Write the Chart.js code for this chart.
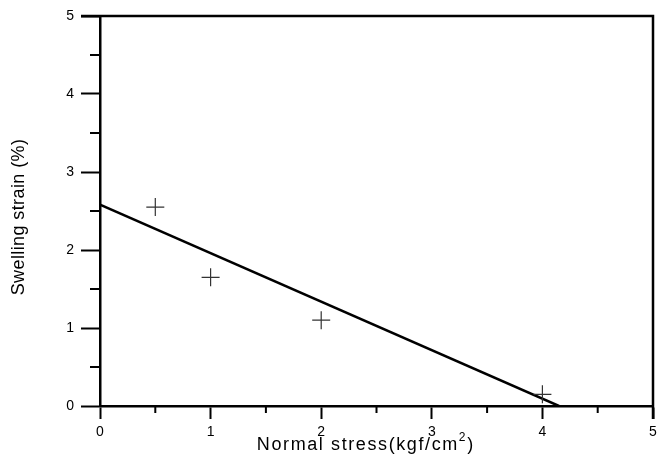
<!DOCTYPE html>
<html>
<head>
<meta charset="utf-8">
<script src="https://cdn.jsdelivr.net/npm/chart.js@4"></script>
<style>
  html, body { margin: 0; padding: 0; background: #fff; overflow: hidden; }
  canvas { display: block; }
</style>
</head>
<body>
<canvas id="swellChart" width="658" height="454"></canvas>
<script>
// measured points
const stress = [0.5, 1, 2, 4];
const strain = [2.55, 1.65, 1.1, 0.15];

// fitted line end points
const fitStress = [0, 4.15];
const fitStrain = [2.58, 0];

const majorTicks = [0, 1, 2, 3, 4, 5];
const minorTicks = [0.5, 1.5, 2.5, 3.5, 4.5];

const FONT = '"Liberation Sans", Arial, sans-serif';

// box frame, minor ticks and axis titles
const framePlugin = {
    id: 'framePlugin',
    afterDraw(chart) {
        const ctx = chart.ctx;
        const xs = chart.scales.x;
        const ys = chart.scales.y;
        const a = chart.chartArea;
        ctx.save();
        ctx.strokeStyle = '#000';
        ctx.lineWidth = 2.5;
        ctx.beginPath();
        // top and right edges
        ctx.moveTo(a.left - 19, a.top);
        ctx.lineTo(a.right, a.top);
        ctx.lineTo(a.right, a.bottom + 13);
        ctx.stroke();

        ctx.lineWidth = 2;
        ctx.beginPath();
        minorTicks.forEach(v => {
            const px = xs.getPixelForValue(v);
            ctx.moveTo(px, a.bottom);
            ctx.lineTo(px, a.bottom + 7);
            const py = ys.getPixelForValue(v);
            ctx.moveTo(a.left, py);
            ctx.lineTo(a.left - 10, py);
        });
        ctx.stroke();

        ctx.fillStyle = '#000';
        ctx.textBaseline = 'alphabetic';
        ctx.letterSpacing = '1.6px';
        ctx.font = '18px ' + FONT;
        const main = 'Normal stress(kgf/cm';
        const w = ctx.measureText(main).width;
        ctx.font = '12px ' + FONT;
        const sw = ctx.measureText('2').width;
        ctx.font = '18px ' + FONT;
        const tx = 362 - (w + sw) / 2;
        ctx.fillText(main, tx, 450);
        ctx.font = '12px ' + FONT;
        ctx.fillText('2', tx + w, 441);
        ctx.font = '18px ' + FONT;
        ctx.fillText(')', tx + w + sw, 450);

        ctx.letterSpacing = '0.4px';
        ctx.translate(24, 217);
        ctx.rotate(-Math.PI / 2);
        ctx.textAlign = 'center';
        ctx.fillText('Swelling strain (%)', 0, 0);
        ctx.restore();
    }
};

new Chart(document.getElementById('swellChart'), {
    type: 'scatter',
    data: {
        datasets: [
            {
                label: 'measured',
                data: stress.map((s, i) => ({ x: s, y: strain[i] })),
                pointStyle: 'cross',
                pointRadius: 9,
                pointBorderWidth: 1.2,
                borderColor: '#333',
                backgroundColor: '#333'
            },
            {
                type: 'line',
                label: 'fit',
                data: fitStress.map((s, i) => ({ x: s, y: fitStrain[i] })),
                borderColor: '#000',
                borderWidth: 2.5,
                pointRadius: 0,
                fill: false
            }
        ]
    },
    options: {
        responsive: false,
        animation: false,
        layout: {
            autoPadding: false,
            padding: { top: 16, right: 5, left: 0, bottom: 0 }
        },
        plugins: {
            legend: { display: false },
            tooltip: { enabled: false }
        },
        scales: {
            x: {
                type: 'linear',
                min: 0,
                max: 5,
                afterFit: s => {
                    s.height = 48;
                    s.paddingLeft = 0;
                    s.paddingRight = 0;
                },
                afterBuildTicks: s => { s.ticks = majorTicks.map(v => ({ value: v })); },
                ticks: {
                    color: '#000',
                    font: { family: FONT, size: 14 },
                    padding: 5,
                    maxRotation: 0
                },
                grid: {
                    drawOnChartArea: false,
                    tickLength: 13,
                    tickColor: '#000',
                    tickWidth: 2
                },
                border: { color: '#000', width: 2.5 }
            },
            y: {
                min: 0,
                max: 5,
                afterFit: s => {
                    s.width = 100;
                    s.paddingTop = 0;
                    s.paddingBottom = 0;
                },
                afterBuildTicks: s => { s.ticks = majorTicks.map(v => ({ value: v })); },
                ticks: {
                    color: '#000',
                    font: { family: FONT, size: 14 },
                    padding: 7
                },
                grid: {
                    drawOnChartArea: false,
                    tickLength: 19,
                    tickColor: '#000',
                    tickWidth: 2
                },
                border: { color: '#000', width: 2.5 }
            }
        }
    },
    plugins: [framePlugin]
});
</script>
</body>
</html>
